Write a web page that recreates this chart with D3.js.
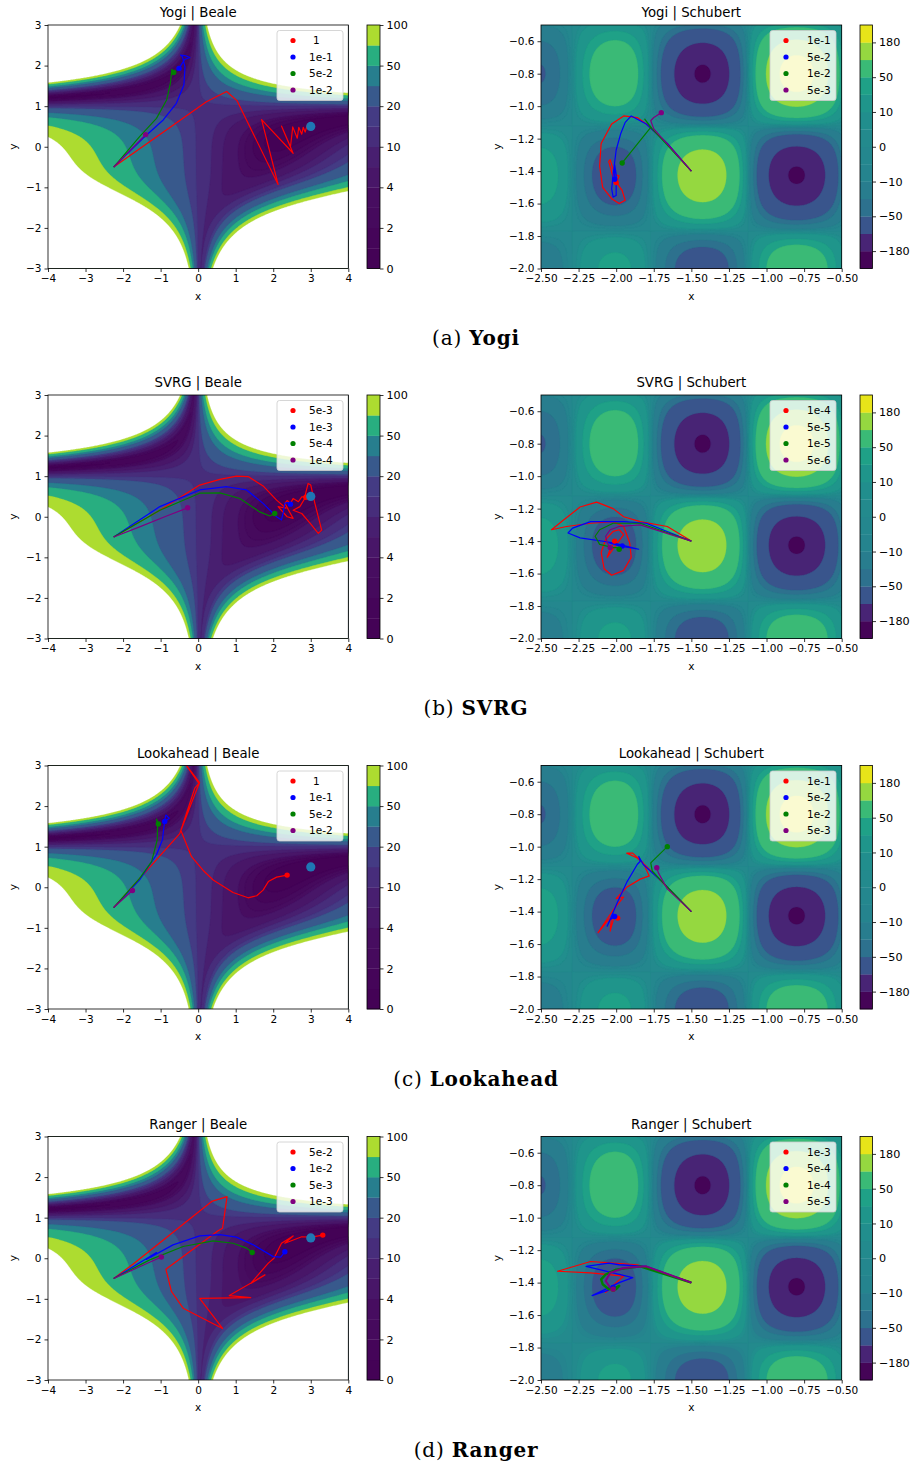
<!DOCTYPE html>
<html>
<head>
<meta charset="utf-8">
<script src="https://cdn.jsdelivr.net/npm/d3@7"></script>
<style>
  body { margin: 0; background: #fff; }
  svg text { font-family: "DejaVu Sans", sans-serif; }
</style>
</head>
<body>
<svg id="fig" width="912" height="1463"></svg>
<script>
// contour levels and colorbar ticks
const bealeLevels = [0, 1, 2, 3, 4, 7, 10, 15, 20, 35, 50, 75, 100];
const bealeTickIdx = [0, 2, 4, 6, 8, 10, 12];
const schubertLevels = [-186.7, -180, -115, -50, -30, -10, -5, 0, 5, 10, 30, 50, 115, 180, 210.5];
const schubertTickIdx = [1, 3, 5, 7, 9, 11, 13];

const optimizers = ["Yogi", "SVRG", "Lookahead", "Ranger"];
const captionLetters = ["(a)", "(b)", "(c)", "(d)"];
const seriesColors = ["red", "blue", "green", "purple"];

const bealeStart = [-2.25, -0.5];
const bealeMinimum = [3, 0.5];
const schubertStart = [-1.5, -1.4];

// legend labels (learning rates)
const yogiBealeLr = ["1", "1e-1", "5e-2", "1e-2"];
const yogiSchubertLr = ["1e-1", "5e-2", "1e-2", "5e-3"];
const svrgBealeLr = ["5e-3", "1e-3", "5e-4", "1e-4"];
const svrgSchubertLr = ["1e-4", "5e-5", "1e-5", "5e-6"];
const lookaheadBealeLr = ["1", "1e-1", "5e-2", "1e-2"];
const lookaheadSchubertLr = ["1e-1", "5e-2", "1e-2", "5e-3"];
const rangerBealeLr = ["5e-2", "1e-2", "5e-3", "1e-3"];
const rangerSchubertLr = ["1e-3", "5e-4", "1e-4", "5e-5"];

// trajectories, start point is prepended when drawn
const yogiBeale = [
  [[0.22,1.11],[0.76,1.36],[1.04,1.13],[2.13,-0.93],[1.69,0.67],[2.53,-0.16],[2.22,0.51],[2.46,0.0],[2.52,0.49],[2.64,0.21],[2.68,0.48],[2.76,0.31],[2.8,0.48],[2.85,0.36],[2.89,0.48],[2.96,0.51]],
  [[-1.47,0.21],[-0.93,0.66],[-0.58,1.07],[-0.38,1.52],[-0.35,1.97],[-0.42,2.22],[-0.47,2.26],[-0.33,2.24],[-0.22,2.2],[-0.36,2.15],[-0.42,2.06],[-0.51,1.93]],
  [[-1.56,0.25],[-1.11,0.7],[-0.84,1.15],[-0.74,1.56],[-0.7,1.91],[-0.65,1.83]],
  [[-1.4,0.3]]
];
const yogiSchubert = [
  [[-1.66,-1.23],[-1.8,-1.11],[-1.86,-1.07],[-1.95,-1.06],[-2.03,-1.11],[-2.1,-1.23],[-2.11,-1.37],[-2.09,-1.5],[-2.03,-1.57],[-1.98,-1.6],[-1.94,-1.58],[-1.96,-1.52],[-2.02,-1.44],[-2.05,-1.34],[-2.04,-1.33],[-2.01,-1.42],[-1.98,-1.43],[-2.0,-1.47]],
  [[-1.66,-1.23],[-1.8,-1.11],[-1.9,-1.06],[-1.94,-1.1],[-1.97,-1.17],[-2.0,-1.27],[-2.02,-1.42],[-2.03,-1.51],[-2.02,-1.56],[-2.0,-1.55],[-2.0,-1.42],[-2.01,-1.36],[-2.01,-1.45]],
  [[-1.76,-1.14],[-1.81,-1.08],[-1.77,-1.13],[-1.96,-1.35]],
  [[-1.75,-1.14],[-1.77,-1.09],[-1.75,-1.07],[-1.7,-1.04]]
];
const svrgBeale = [
  [[-1.02,0.16],[0.04,0.78],[0.58,0.92],[1.02,1.0],[1.33,0.99],[1.73,0.76],[2.09,0.41],[2.34,0.21],[2.13,0.25],[2.37,0.0],[2.53,-0.04],[2.31,0.33],[2.37,0.4],[2.46,0.33],[2.53,0.45],[2.67,0.37],[2.76,0.49],[2.84,0.49],[2.93,0.82],[3.0,0.78],[3.11,0.33],[3.29,-0.33],[3.2,-0.41],[2.98,-0.16],[2.76,0.08],[2.53,0.16],[2.71,0.25],[2.84,0.45],[2.87,0.48]],
  [[-1.02,0.25],[0.04,0.66],[0.76,0.74],[1.29,0.66],[1.73,0.33],[2.09,0.0],[2.22,-0.08],[2.27,0.12],[2.31,0.33],[2.37,0.35],[2.46,0.31]],
  [[-1.02,0.16],[0.04,0.58],[0.58,0.59],[1.11,0.45],[1.64,0.12],[1.91,0.02],[2.04,0.08]],
  [[-1.56,-0.25],[-0.84,0.02],[-0.28,0.22]]
];
const svrgSchubert = [
  [[-1.66,-1.31],[-1.84,-1.28],[-1.95,-1.25],[-2.02,-1.2],[-2.13,-1.16],[-2.24,-1.19],[-2.35,-1.27],[-2.43,-1.33],[-2.33,-1.31],[-2.17,-1.29],[-2.02,-1.28],[-1.95,-1.31],[-1.91,-1.41],[-1.9,-1.5],[-1.95,-1.58],[-2.03,-1.61],[-2.08,-1.57],[-2.1,-1.47],[-2.07,-1.39],[-2.02,-1.34],[-1.98,-1.33],[-1.95,-1.36],[-1.99,-1.41],[-2.03,-1.46],[-2.06,-1.5],[-2.04,-1.45],[-2.01,-1.4]],
  [[-1.8,-1.29],[-1.95,-1.28],[-2.17,-1.28],[-2.29,-1.32],[-2.32,-1.35],[-2.24,-1.38],[-2.02,-1.41],[-1.85,-1.45],[-1.98,-1.43],[-2.05,-1.41],[-1.96,-1.43]],
  [[-1.84,-1.29],[-2.02,-1.29],[-2.11,-1.33],[-2.14,-1.37],[-2.11,-1.42],[-2.02,-1.44],[-1.96,-1.44],[-1.98,-1.45]],
  [[-1.84,-1.3],[-1.98,-1.31],[-2.04,-1.33],[-2.07,-1.37],[-2.06,-1.41],[-2.04,-1.44]]
];
const lookaheadBeale = [
  [[-0.49,1.32],[-0.09,2.44],[0.02,2.56],[-0.36,3.06],[0.04,2.58],[-0.04,2.4],[-0.46,1.4],[-0.18,0.76],[0.15,0.4],[0.4,0.18],[0.93,-0.13],[1.33,-0.26],[1.56,-0.21],[1.73,-0.07],[1.87,0.14],[2.09,0.25],[2.37,0.3]],
  [[-1.56,0.18],[-1.11,0.8],[-0.95,1.17],[-0.89,1.66],[-0.86,1.78],[-0.77,1.7],[-0.89,1.62]],
  [[-1.56,0.22],[-1.24,0.63],[-1.09,1.17],[-1.08,1.54],[-1.11,1.68],[-1.06,1.56]],
  [[-1.75,-0.08]]
];
const lookaheadSchubert = [
  [[-1.66,-1.25],[-1.8,-1.12],[-1.86,-1.07],[-1.93,-1.04],[-1.89,-1.04],[-1.82,-1.1],[-1.78,-1.18],[-1.84,-1.2],[-1.93,-1.25],[-2.0,-1.32],[-1.95,-1.31],[-2.02,-1.39],[-2.12,-1.53],[-2.06,-1.46],[-2.03,-1.43],[-2.04,-1.52],[-2.01,-1.42],[-1.99,-1.44]],
  [[-1.69,-1.22],[-1.82,-1.11],[-1.85,-1.06],[-1.84,-1.09],[-1.86,-1.11],[-1.93,-1.22],[-1.99,-1.34],[-2.06,-1.49],[-2.03,-1.43],[-2.02,-1.41],[-2.04,-1.45],[-2.01,-1.43]],
  [[-1.7,-1.21],[-1.76,-1.15],[-1.77,-1.1],[-1.66,-1.0]],
  [[-1.66,-1.26],[-1.72,-1.16],[-1.73,-1.13]]
];
const rangerBeale = [
  [[-1.73,-0.14],[0.36,1.4],[0.77,1.52],[0.65,0.74],[0.53,0.68],[-0.86,-0.27],[-0.71,-0.82],[-0.4,-1.23],[0.65,-1.73],[0.04,-0.99],[1.4,-0.97],[0.83,-0.92],[1.78,-0.41],[1.4,-0.62],[1.87,-0.12],[2.02,0.0],[2.22,0.37],[2.53,0.55],[2.31,0.37],[2.76,0.53],[3.02,0.52],[3.32,0.57]],
  [[-1.11,0.14],[-1.38,-0.03],[-0.67,0.33],[0.04,0.55],[0.58,0.58],[1.02,0.52],[1.47,0.33],[2.0,0.04],[2.2,0.03],[2.31,0.16]],
  [[-1.29,-0.04],[-0.4,0.29],[0.4,0.43],[0.93,0.37],[1.29,0.25],[1.44,0.14]],
  [[-1.56,-0.21],[-0.98,0.03]]
];
const rangerSchubert = [
  [[-1.71,-1.33],[-1.86,-1.29],[-2.02,-1.28],[-2.17,-1.27],[-2.39,-1.33],[-2.17,-1.34],[-1.95,-1.36],[-2.0,-1.4],[-2.07,-1.46],[-2.03,-1.43],[-2.02,-1.44]],
  [[-1.8,-1.3],[-1.98,-1.29],[-2.05,-1.28],[-2.2,-1.3],[-2.11,-1.32],[-1.89,-1.37],[-1.98,-1.4],[-2.16,-1.48],[-2.06,-1.45],[-2.02,-1.43]],
  [[-1.84,-1.3],[-2.0,-1.32],[-2.07,-1.35],[-2.1,-1.38],[-2.09,-1.41],[-2.05,-1.44],[-2.0,-1.44],[-1.98,-1.42],[-2.02,-1.44]],
  [[-1.8,-1.3],[-1.95,-1.31],[-2.04,-1.34],[-2.07,-1.39],[-2.04,-1.43],[-2.02,-1.44]]
];

const bealeRuns = [yogiBeale, svrgBeale, lookaheadBeale, rangerBeale];
const schubertRuns = [yogiSchubert, svrgSchubert, lookaheadSchubert, rangerSchubert];
const bealeLrs = [yogiBealeLr, svrgBealeLr, lookaheadBealeLr, rangerBealeLr];
const schubertLrs = [yogiSchubertLr, svrgSchubertLr, lookaheadSchubertLr, rangerSchubertLr];

// the two test functions
function bealeFn(x, y) {
  return (1.5 - x + x * y) ** 2 + (2.25 - x + x * y * y) ** 2 + (2.625 - x + x * y * y * y) ** 2;
}
function schubertFn(x, y) {
  let a = 0, b = 0;
  for (let j = 1; j <= 5; j++) {
    a += j * Math.cos((j + 1) * x + j);
    b += j * Math.cos((j + 1) * y + j);
  }
  return a * b;
}

function bandColors(levels, vmin, vmax) {
  const cols = [];
  for (let i = 0; i < levels.length - 1; i++) {
    const mid = (levels[i] + levels[i + 1]) / 2;
    cols.push(d3.interpolateViridis((mid - vmin) / (vmax - vmin)));
  }
  return cols;
}
const bealeColors = bandColors(bealeLevels, 0, 100);
const schubertColors = bandColors(schubertLevels, -186.7, 210.5);

const rowTops = [25, 395, 765.5, 1136.5];
const plotH = 243.5;
const panels = {
  beale: { left: 48, width: 300.3, xDomain: [-4, 4], yDomain: [-3, 3], cbLeft: 367, cbW: 13,
           xTicks: [-4, -3, -2, -1, 0, 1, 2, 3, 4], yTicks: [-3, -2, -1, 0, 1, 2, 3], xFmt: "d", yFmt: "d",
           legendX: 277, legendW: 66, markX: 293, textX: 309, ylabX: 13 },
  schubert: { left: 541, width: 300.7, xDomain: [-2.5, -0.5], yDomain: [-2, -0.5], cbLeft: 860, cbW: 12.5,
              xTicks: d3.range(-2.5, -0.49, 0.25), yTicks: d3.range(-2.0, -0.55, 0.2), xFmt: ".2f", yFmt: ".1f",
              legendX: 770, legendW: 66, markX: 786, textX: 807, ylabX: 497 }
};

const svg = d3.select("#fig");
svg.append("rect").attr("width", 912).attr("height", 1463).attr("fill", "#fff");
const defs = svg.append("defs");
let clipCount = 0;

function drawField(g, fn, xs, ys, levels, colors, whiteAbove) {
  const nx = 300, ny = 244;
  const gx = d3.scaleLinear().domain([0, nx]).range(xs.domain());
  const gy = d3.scaleLinear().domain([0, ny]).range(ys.domain());
  const values = new Float64Array(nx * ny);
  for (let j = 0; j < ny; j++)
    for (let i = 0; i < nx; i++)
      values[j * nx + i] = fn(gx(i + 0.5), gy(j + 0.5));
  const path = d3.geoPath(d3.geoTransform({
    point(px, py) { this.stream.point(xs(gx(px)), ys(gy(py))); }
  }));
  const thresholds = levels.slice(0, colors.length);
  thresholds[0] = d3.min(values) - 1;
  const fills = colors.slice();
  if (whiteAbove) { thresholds.push(levels[levels.length - 1]); fills.push("#ffffff"); }
  const cs = d3.contours().size([nx, ny]).thresholds(thresholds)(values);
  g.selectAll(null).data(cs).join("path")
    .attr("d", path)
    .attr("fill", (d, i) => fills[i])
    .attr("stroke", (d, i) => fills[i])
    .attr("stroke-width", 0.3);
}

function drawPanel(p, top, title, fn, levels, colors, tickIdx, runs, lrs, showMin, whiteAbove, widths) {
  const xs = d3.scaleLinear().domain(p.xDomain).range([p.left, p.left + p.width]);
  const ys = d3.scaleLinear().domain(p.yDomain).range([top + plotH, top]);
  const id = "clip" + (clipCount++);
  defs.append("clipPath").attr("id", id).append("rect")
    .attr("x", p.left).attr("y", top).attr("width", p.width).attr("height", plotH);
  const g = svg.append("g").attr("clip-path", `url(#${id})`);

  drawField(g, fn, xs, ys, levels, colors, whiteAbove);

  const line = d3.line().x(d => xs(d[0])).y(d => ys(d[1]));
  const start = fn === bealeFn ? bealeStart : schubertStart;
  runs.forEach((pts, k) => {
    const full = [start].concat(pts);
    g.append("path").attr("d", line(full)).attr("fill", "none")
      .attr("stroke", seriesColors[k]).attr("stroke-width", widths[k]).attr("stroke-linejoin", "round");
  });
  runs.forEach((pts, k) => {
    const last = pts[pts.length - 1];
    g.append("circle").attr("cx", xs(last[0])).attr("cy", ys(last[1])).attr("r", 2.7)
      .attr("fill", seriesColors[k]);
  });
  if (showMin) {
    g.append("circle").attr("cx", xs(bealeMinimum[0])).attr("cy", ys(bealeMinimum[1]))
      .attr("r", 4.6).attr("fill", "#1f77b4");
  }

  // spines
  svg.append("rect").attr("x", p.left).attr("y", top).attr("width", p.width).attr("height", plotH)
    .attr("fill", "none").attr("stroke", "#000").attr("stroke-width", 0.8);

  const xAxis = svg.append("g").attr("transform", `translate(0,${top + plotH})`)
    .call(d3.axisBottom(xs).tickValues(p.xTicks).tickFormat(d3.format(p.xFmt)).tickSize(3.5).tickPadding(3).tickSizeOuter(0));
  const yAxis = svg.append("g").attr("transform", `translate(${p.left},0)`)
    .call(d3.axisLeft(ys).tickValues(p.yTicks).tickFormat(d3.format(p.yFmt)).tickSize(3.5).tickPadding(3).tickSizeOuter(0));
  [xAxis, yAxis].forEach(a => {
    a.select(".domain").remove();
    a.attr("font-family", null).attr("font-size", null);
    a.selectAll("text").attr("font-size", 10.5).attr("fill", "#000");
    a.selectAll("line").attr("stroke", "#000").attr("stroke-width", 0.8);
  });

  svg.append("text").attr("x", p.left + p.width / 2).attr("y", top - 8)
    .attr("text-anchor", "middle").attr("font-size", 13.3).text(title);
  svg.append("text").attr("x", p.left + p.width / 2).attr("y", top + plotH + 31)
    .attr("text-anchor", "middle").attr("font-size", 10.5).text("x");
  svg.append("text").attr("transform", `translate(${p.ylabX + 4},${top + plotH / 2}) rotate(-90)`)
    .attr("text-anchor", "middle").attr("font-size", 10.5).text("y");

  // legend
  const lg = svg.append("g");
  lg.append("rect").attr("x", p.legendX).attr("y", top + 5.5).attr("width", p.legendW).attr("height", 70)
    .attr("rx", 2.5).attr("fill", "#fff").attr("fill-opacity", 0.8).attr("stroke", "#cccccc").attr("stroke-width", 0.8);
  lrs.forEach((lab, k) => {
    const yy = top + 15.5 + k * 16.5;
    lg.append("circle").attr("cx", p.markX).attr("cy", yy).attr("r", 2.6).attr("fill", seriesColors[k]);
    lg.append("text").attr("x", p.textX + (lab.length === 1 ? 4 : 0)).attr("y", yy + 3.8)
      .attr("font-size", 10.5).text(lab);
  });

  // colorbar
  const nb = colors.length;
  const cs = d3.scaleLinear().domain([0, nb]).range([top + plotH, top]);
  svg.append("g").selectAll("rect").data(colors).join("rect")
    .attr("x", p.cbLeft).attr("y", (d, i) => cs(i + 1)).attr("width", p.cbW)
    .attr("height", (d, i) => cs(i) - cs(i + 1) + 0.3).attr("fill", d => d);
  svg.append("rect").attr("x", p.cbLeft).attr("y", top).attr("width", p.cbW).attr("height", plotH)
    .attr("fill", "none").attr("stroke", "#000").attr("stroke-width", 0.8);
  const cbAxis = svg.append("g").attr("transform", `translate(${p.cbLeft + p.cbW},0)`)
    .call(d3.axisRight(cs).tickValues(tickIdx).tickFormat(i => d3.format("d")(levels[i])).tickSize(3.5).tickPadding(3).tickSizeOuter(0));
  cbAxis.select(".domain").remove();
  cbAxis.attr("font-family", null).attr("font-size", null);
  cbAxis.selectAll("text").attr("font-size", 11.2).attr("fill", "#000");
  cbAxis.selectAll("line").attr("stroke", "#000").attr("stroke-width", 0.8);
}

const defaultWidths = [1.2, 1.2, 1.2, 1.2];
const rangerSchubertWidths = [1.2, 1.3, 2.4, 2.0];
const schubertWidths = [defaultWidths, defaultWidths, defaultWidths, rangerSchubertWidths];

optimizers.forEach((name, r) => {
  const top = rowTops[r];
  drawPanel(panels.beale, top, `${name} | Beale`, bealeFn, bealeLevels, bealeColors, bealeTickIdx,
            bealeRuns[r], bealeLrs[r], true, true, defaultWidths);
  drawPanel(panels.schubert, top, `${name} | Schubert`, schubertFn, schubertLevels, schubertColors, schubertTickIdx,
            schubertRuns[r], schubertLrs[r], false, false, schubertWidths[r]);

  const cap = svg.append("text").attr("x", 476).attr("y", top + 320)
    .attr("text-anchor", "middle").attr("font-size", 20).attr("letter-spacing", 0.8)
    .style("font-family", "'DejaVu Serif', serif");
  cap.append("tspan").text(captionLetters[r] + " ");
  cap.append("tspan").attr("font-weight", "bold").text(name);
});
</script>
</body>
</html>
